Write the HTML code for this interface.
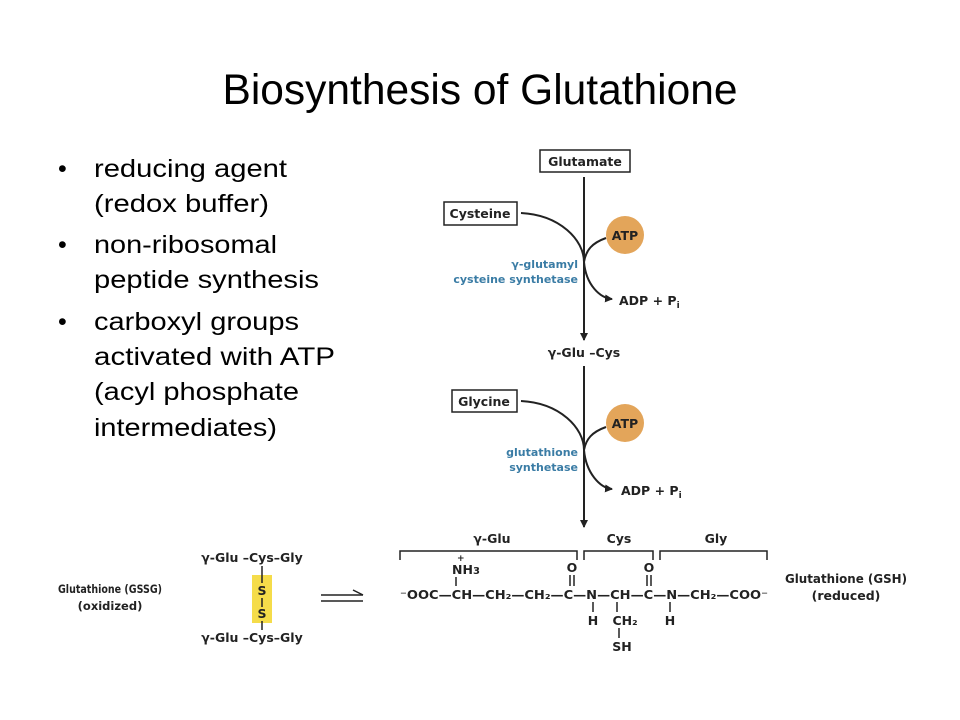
<!DOCTYPE html>
<html><head><meta charset="utf-8"><style>
html,body{margin:0;padding:0;background:#fff;}
svg{display:block;}
.t{font-family:"Liberation Sans",sans-serif;fill:#000;}
.b{font-family:"DejaVu Sans","Liberation Sans",sans-serif;font-weight:bold;fill:#222;font-size:12.5px;}
.e{font-family:"DejaVu Sans","Liberation Sans",sans-serif;font-weight:bold;fill:#3a7ca5;font-size:11px;}
</style></head><body>
<svg width="960" height="720" viewBox="0 0 960 720" xmlns="http://www.w3.org/2000/svg">
<defs><marker id="ar" markerWidth="8" markerHeight="8" refX="7" refY="4" orient="auto" markerUnits="userSpaceOnUse"><path d="M0,0 L8,4 L0,8 z" fill="#222"/></marker></defs>
<text class="t" x="480" y="104" font-size="42.5" text-anchor="middle">Biosynthesis of Glutathione</text>
<g class="t" font-size="25">
<text x="58" y="177">•</text><text x="94" y="177" textLength="193" lengthAdjust="spacingAndGlyphs">reducing agent</text>
<text x="94" y="212" textLength="175" lengthAdjust="spacingAndGlyphs">(redox buffer)</text>
<text x="58" y="253">•</text><text x="94" y="253" textLength="183" lengthAdjust="spacingAndGlyphs">non-ribosomal</text>
<text x="94" y="288" textLength="225" lengthAdjust="spacingAndGlyphs">peptide synthesis</text>
<text x="58" y="330">•</text><text x="94" y="330" textLength="205" lengthAdjust="spacingAndGlyphs">carboxyl groups</text>
<text x="94" y="365" textLength="241" lengthAdjust="spacingAndGlyphs">activated with ATP</text>
<text x="94" y="400" textLength="205" lengthAdjust="spacingAndGlyphs">(acyl phosphate</text>
<text x="94" y="436" textLength="183" lengthAdjust="spacingAndGlyphs">intermediates)</text>
</g>
<g stroke="#222" stroke-width="2" fill="none">
<rect x="540" y="150" width="90" height="22" stroke-width="1.5"/>
<rect x="444" y="202" width="73" height="23" stroke-width="1.5"/>
<rect x="452" y="390" width="65" height="22" stroke-width="1.5"/>
<line x1="584" y1="177" x2="584" y2="340" marker-end="url(#ar)"/>
<path d="M521,213 C560,215 584,240 584,262 C586,285 600,298 612,299" marker-end="url(#ar)"/>
<path d="M606,238 C592,243 586,250 584,262"/>
<line x1="584" y1="366" x2="584" y2="527" marker-end="url(#ar)"/>
<path d="M521,401 C560,403 584,428 584,450 C586,473 600,488 612,489" marker-end="url(#ar)"/>
<path d="M606,427 C592,432 586,439 584,450"/>
<path d="M400,560 V551 H577 V560" stroke-width="1.5"/>
<path d="M584,560 V551 H653 V560" stroke-width="1.5"/>
<path d="M660,560 V551 H767 V560" stroke-width="1.5"/>
<line x1="321" y1="595" x2="363" y2="595" stroke-width="1.5"/>
<line x1="321" y1="601" x2="363" y2="601" stroke-width="1.5"/>
<path d="M353,590 L363,595" stroke-width="1.5"/>
</g>
<rect x="252" y="575" width="20" height="48" fill="#f5dc4a"/>
<circle cx="625" cy="235" r="19" fill="#e3a55a"/>
<circle cx="625" cy="423" r="19" fill="#e3a55a"/>
<g class="b">
<text x="585" y="166" text-anchor="middle">Glutamate</text>
<text x="480" y="218" text-anchor="middle">Cysteine</text>
<text x="484" y="406" text-anchor="middle">Glycine</text>
<text x="625" y="240" text-anchor="middle">ATP</text>
<text x="625" y="428" text-anchor="middle">ATP</text>
<text x="619" y="305">ADP  +  P<tspan font-size="9" dy="3">i</tspan></text>
<text x="621" y="495">ADP  +  P<tspan font-size="9" dy="3">i</tspan></text>
<text x="584" y="357" text-anchor="middle">γ-Glu –Cys</text>
<text x="492" y="543" text-anchor="middle">γ-Glu</text>
<text x="619" y="543" text-anchor="middle">Cys</text>
<text x="716" y="543" text-anchor="middle">Gly</text>
<text x="58" y="593" font-size="11.5" textLength="104" lengthAdjust="spacingAndGlyphs">Glutathione (GSSG)</text>
<text x="110" y="610" text-anchor="middle" font-size="11.5">(oxidized)</text>
<text x="252" y="562" text-anchor="middle">γ-Glu –Cys–Gly</text>
<text x="252" y="642" text-anchor="middle">γ-Glu –Cys–Gly</text>
<text x="262" y="595" text-anchor="middle">S</text>
<text x="262" y="618" text-anchor="middle">S</text>
<text x="785" y="583" textLength="122" lengthAdjust="spacingAndGlyphs">Glutathione (GSH)</text>
<text x="846" y="600" text-anchor="middle">(reduced)</text>
<text x="400" y="599" font-size="12" textLength="368" lengthAdjust="spacingAndGlyphs">⁻OOC—CH—CH₂—CH₂—C—N—CH—C—N—CH₂—COO⁻</text>
<text x="452" y="574">NH<tspan font-size="10">3</tspan></text>
<text x="457" y="561" font-size="9">+</text>
<text x="572" y="572" text-anchor="middle">O</text>
<text x="649" y="572" text-anchor="middle">O</text>
<text x="593" y="625" text-anchor="middle">H</text>
<text x="625" y="625" text-anchor="middle">CH₂</text>
<text x="622" y="651" text-anchor="middle">SH</text>
<text x="670" y="625" text-anchor="middle">H</text>
</g>
<g stroke="#222" stroke-width="1.5">
<line x1="262" y1="566" x2="262" y2="583"/><line x1="262" y1="598" x2="262" y2="607"/><line x1="262" y1="621" x2="262" y2="630"/>
<line x1="456" y1="577" x2="456" y2="586"/>
<line x1="570" y1="575" x2="570" y2="586"/><line x1="574" y1="575" x2="574" y2="586"/>
<line x1="647" y1="575" x2="647" y2="586"/><line x1="651" y1="575" x2="651" y2="586"/>
<line x1="593" y1="602" x2="593" y2="612"/><line x1="617" y1="602" x2="617" y2="612"/>
<line x1="619" y1="628" x2="619" y2="638"/><line x1="670" y1="602" x2="670" y2="612"/>
</g>
<g class="e" text-anchor="end">
<text x="578" y="268">γ-glutamyl</text>
<text x="578" y="283">cysteine synthetase</text>
<text x="578" y="456">glutathione</text>
<text x="578" y="471">synthetase</text>
</g>
</svg>
</body></html>
